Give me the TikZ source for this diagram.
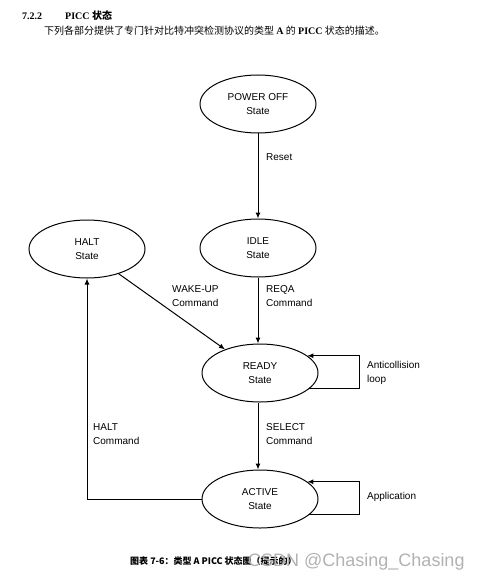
\documentclass[tikz,border=0pt]{standalone}
\usepackage{fontspec}
\setmainfont{Liberation Serif}
\setsansfont{Liberation Sans}
\newfontfamily\cjk{Noto Sans CJK SC}
\usetikzlibrary{arrows.meta,positioning,shapes.geometric}

\begin{document}
\begin{tikzpicture}[x=1pt,y=-1pt,font=\sffamily\fontsize{10}{14}\selectfont,
  state/.style={ellipse,draw,line width=1pt,minimum width=116pt,minimum height=58pt,align=center,inner sep=0pt},
  arr/.style={line width=1pt,-{Latex[length=6pt,width=5pt]}},
  lbl/.style={align=left,anchor=north west,inner sep=0pt}]
\useasboundingbox (0,0) rectangle (484,580);
\fill[white] (0,0) rectangle (484,580);
% header text
\node[anchor=base west,inner sep=0pt,font=\rmfamily\bfseries\fontsize{10}{12}\selectfont] (sec) at (22,20) {7.2.2};
\node[anchor=base west,inner sep=0pt,font=\rmfamily\bfseries\fontsize{10}{12}\selectfont] (sectitle) at (65,20) {PICC {\cjk 状态}};
\node[anchor=base west,inner sep=0pt,font=\rmfamily\fontsize{10}{12}\selectfont] (intro) at (44,35) {\cjk 下列各部分提供了专门针对比特冲突检测协议的类型 {\rmfamily\bfseries A} 的 {\rmfamily\bfseries PICC} 状态的描述。};
% states
\node[state] (off) at (258,104) {POWER OFF\\State};
\node[state] (idle) at (258,248) {IDLE\\State};
\node[state] (halt) at (87,249) {HALT\\State};
\node[state] (ready) at (260,373) {READY\\State};
\node[state] (active) at (260,499) {ACTIVE\\State};
% transitions
\draw[arr] (off) -- (idle);
\draw[arr] (idle) -- (idle |- ready.north);
\draw[arr] (halt.-38) -- (ready.146);
\draw[arr] (idle |- ready.south) -- (idle |- active.north);
\draw[arr] (active.west) -| (halt.south);
\draw[arr] (ready.-18) -- ++(50,0) |- (ready.20);
\draw[arr] (active.-18) -- ++(50,0) |- (active.20);
% labels
\node[lbl] (lreset) at (266,153) {Reset};
\node[lbl] (lwake) at (172,285) {WAKE-UP\\Command};
\node[lbl] (lreqa) at (266,285) {REQA\\Command};
\node[lbl] (lanti) at (367,361) {Anticollision\\loop};
\node[lbl] (lsel) at (266,423) {SELECT\\Command};
\node[lbl] (lhalt) at (93,423) {HALT\\Command};
\node[lbl] (lapp) at (367,492) {Application};
% caption and watermark
\node[anchor=base west,inner sep=0pt,font=\cjk\bfseries\fontsize{9}{11}\selectfont] (cap) at (130,564) {图表 7-6：类型 A PICC 状态图（提示的）};
\node[anchor=base west,inner sep=0pt,text=gray!60,font=\sffamily\fontsize{18}{20}\selectfont] (mark) at (248,566) {CSDN @Chasing\_Chasing};
\end{tikzpicture}
\end{document}
